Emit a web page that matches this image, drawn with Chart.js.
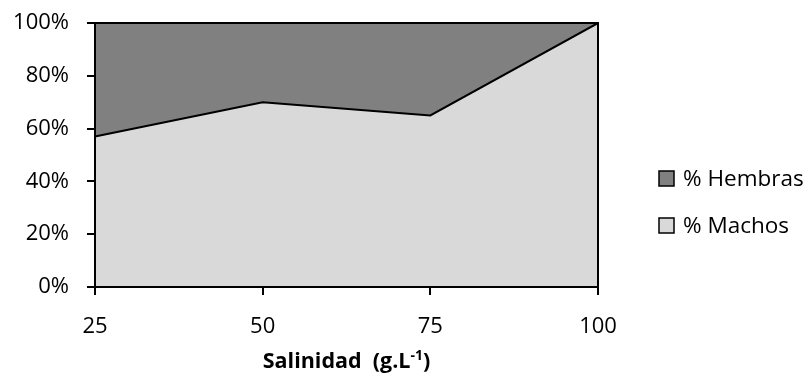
<!DOCTYPE html>
<html>
<head>
<meta charset="utf-8">
<script src="https://cdn.jsdelivr.net/npm/chart.js@4.4.0/dist/chart.umd.min.js"></script>
<style>
    html, body { margin: 0; padding: 0; background: #fff; }
    #wrap { width: 809px; height: 377px; }
</style>
</head>
<body>
<div id="wrap"><canvas id="myChart" width="809" height="377"></canvas></div>
<script>
// Datos
const salinidad = ['25', '50', '75', '100'];
const machos = [57, 70, 65, 100];
const hembras = [43, 30, 35, 0];
const yTicks = [0, 20, 40, 60, 80, 100];

const FONT = '"Open Sans", Lato, sans-serif';

// Borde del área de trazado
const frame = {
    id: 'frame',
    afterDatasetsDraw(chart) {
        const a = chart.chartArea;
        const c = chart.ctx;
        c.save();
        c.strokeStyle = '#000';
        c.lineWidth = 2;
        c.strokeRect(a.left, a.top, a.right - a.left, a.bottom - a.top);
        c.restore();
    }
};

// Leyenda y título del eje x dibujados a mano
const extras = {
    id: 'extras',
    afterDraw(chart) {
        const c = chart.ctx;
        c.save();
        // leyenda: Hembras arriba, Machos abajo
        const items = [chart.data.datasets[1], chart.data.datasets[0]];
        items.forEach((ds, i) => {
            const y = 179 + i * 47;
            c.fillStyle = ds.backgroundColor;
            c.fillRect(659, y - 8, 15, 15);
            c.strokeStyle = '#000';
            c.lineWidth = 1.5;
            c.strokeRect(659, y - 8, 15, 15);
            c.fillStyle = '#000';
            c.font = '22.5px ' + FONT;
            c.textBaseline = 'middle';
            c.textAlign = 'left';
            c.fillText(ds.label, 683, y + 1);
        });
        // título del eje x con superíndice
        const a = chart.chartArea;
        const main = 'Salinidad  (g.L';
        const sup = '-1';
        const end = ')';
        c.textBaseline = 'alphabetic';
        c.font = 'bold 21.5px ' + FONT;
        const w1 = c.measureText(main).width;
        const w3 = c.measureText(end).width;
        c.font = 'bold 14px ' + FONT;
        const w2 = c.measureText(sup).width;
        let x = (a.left + a.right) / 2 - (w1 + w2 + w3) / 2;
        const base = 368;
        c.font = 'bold 21.5px ' + FONT;
        c.fillText(main, x, base);
        x += w1;
        c.font = 'bold 14px ' + FONT;
        c.fillText(sup, x, base - 8);
        x += w2;
        c.font = 'bold 21.5px ' + FONT;
        c.fillText(end, x, base);
        c.restore();
    }
};

const ctx = document.getElementById('myChart').getContext('2d');
new Chart(ctx, {
    type: 'line',
    data: {
        labels: salinidad,
        datasets: [
            {
                label: '% Machos',
                data: machos,
                backgroundColor: '#d9d9d9',
                borderColor: '#000',
                borderWidth: 2,
                fill: 'origin',
                pointRadius: 0,
                tension: 0
            },
            {
                label: '% Hembras',
                data: hembras,
                backgroundColor: '#808080',
                borderColor: '#000',
                borderWidth: 2,
                fill: '-1',
                pointRadius: 0,
                tension: 0
            }
        ]
    },
    options: {
        responsive: false,
        animation: false,
        layout: { padding: { left: 0, right: 211, top: 23, bottom: 0 } },
        plugins: {
            legend: { display: false },
            tooltip: { enabled: false }
        },
        scales: {
            x: {
                offset: false,
                grid: { drawOnChartArea: false, color: '#000', tickLength: 8, lineWidth: 2 },
                border: { color: '#000', width: 2 },
                ticks: { color: '#000', font: { family: FONT, size: 22 }, padding: 19, maxRotation: 0 },
                afterFit(s) { s.height = 90; s.paddingLeft = 0; s.paddingRight = 0; }
            },
            y: {
                stacked: true,
                min: 0,
                max: 100,
                afterBuildTicks(s) { s.ticks = yTicks.map(v => ({ value: v })); },
                grid: { drawOnChartArea: false, color: '#000', tickLength: 8, lineWidth: 2 },
                border: { color: '#000', width: 2 },
                ticks: {
                    color: '#000',
                    font: { family: FONT, size: 22 },
                    padding: 18,
                    callback: v => v + '%'
                },
                afterFit(s) { s.width = 95; s.paddingTop = 0; s.paddingBottom = 0; }
            }
        }
    },
    plugins: [frame, extras]
});
</script>
</body>
</html>
